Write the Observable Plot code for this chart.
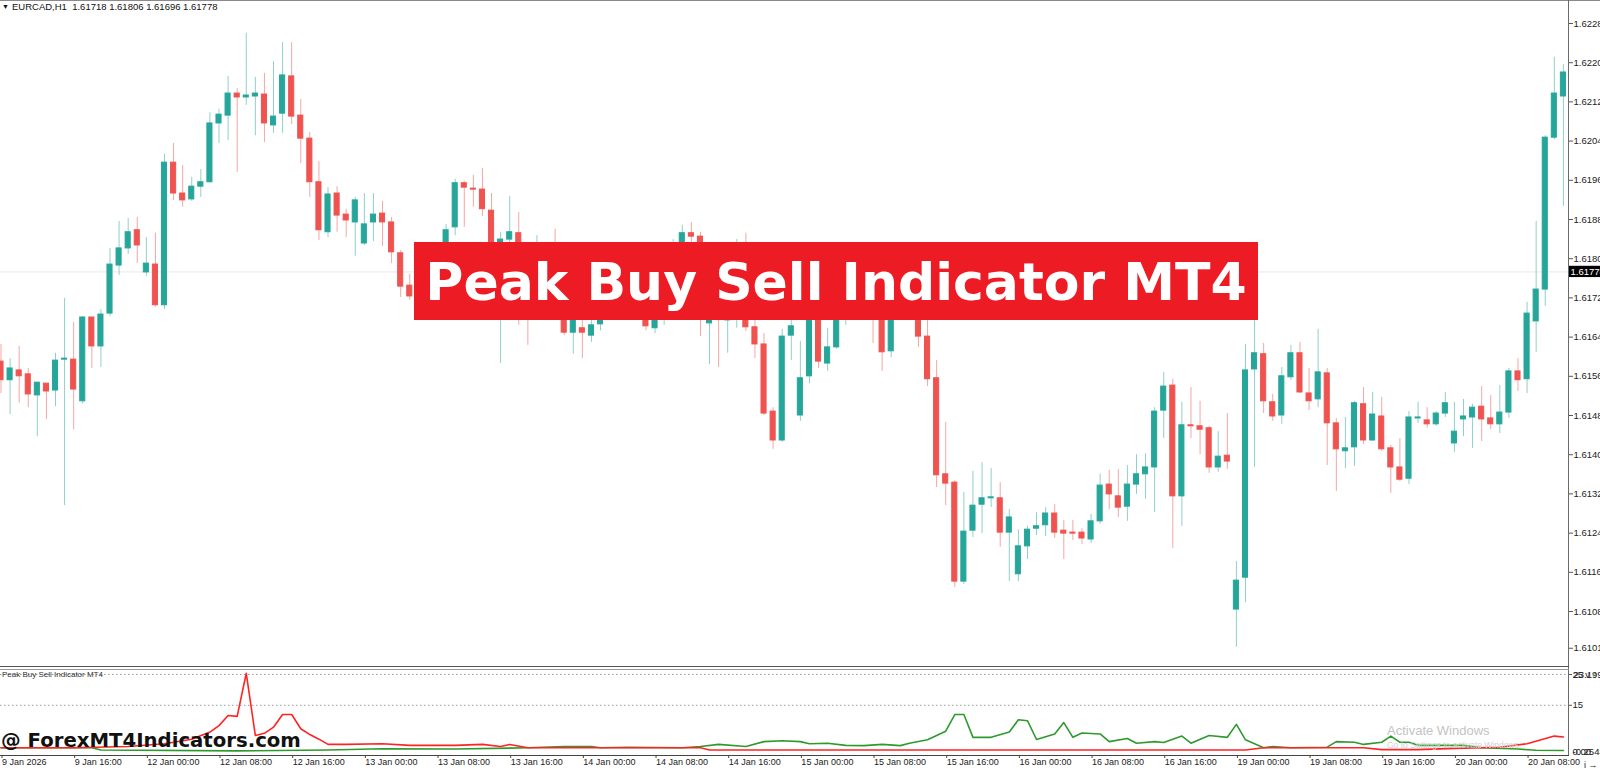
<!DOCTYPE html>
<html><head><meta charset="utf-8">
<script src="https://cdn.jsdelivr.net/npm/d3@7"></script>
<script src="https://cdn.jsdelivr.net/npm/@observablehq/plot@0.6"></script>
<style>
html,body{margin:0;padding:0;background:#fff;}
#wrap{position:relative;width:1600px;height:770px;overflow:hidden;font-family:"Liberation Sans",Arial,sans-serif;}
.abs{position:absolute;white-space:nowrap;}
</style></head><body><div id="wrap"></div>
<script>
// ---- OHLC data, EURCAD H1, candle 0 = 9 Jan 08:00 ----
const open=[1.61595,1.61557,1.61577,1.61569,1.61526,1.61550,1.61536,1.61599,1.61599,1.61514,1.61685,1.61626,1.61693,1.61791,1.61826,1.61863,1.61777,1.61793,1.61710,1.62001,1.61938,1.61926,1.61952,1.61961,1.62081,1.62097,1.62142,1.62134,1.62136,1.62140,1.62077,1.62101,1.62177,1.62097,1.62050,1.61961,1.61859,1.61938,1.61895,1.61879,1.61836,1.61879,1.61897,1.61879,1.61816,1.61750,1.61728,1.61761,1.61750,1.61797,1.61869,1.61959,1.61948,1.61946,1.61903,1.61771,1.61844,1.61857,1.61740,1.61720,1.61781,1.61750,1.61710,1.61654,1.61663,1.61648,1.61671,1.61699,1.61689,1.61710,1.61695,1.61699,1.61663,1.61683,1.61730,1.61801,1.61857,1.61850,1.61673,1.61761,1.61679,1.61699,1.61801,1.61665,1.61630,1.61493,1.61434,1.61648,1.61485,1.61565,1.61720,1.61591,1.61624,1.61699,1.61740,1.61720,1.61750,1.61720,1.61616,1.61720,1.61710,1.61730,1.61646,1.61561,1.61365,1.61348,1.61146,1.61250,1.61303,1.61316,1.61316,1.61246,1.61161,1.61218,1.61254,1.61261,1.61285,1.61250,1.61246,1.61246,1.61232,1.61269,1.61344,1.61320,1.61299,1.61344,1.61365,1.61379,1.61495,1.61546,1.61320,1.61465,1.61463,1.61459,1.61379,1.61403,1.61089,1.61154,1.61579,1.61610,1.61512,1.61485,1.61563,1.61612,1.61530,1.61518,1.61571,1.61469,1.61412,1.61420,1.61508,1.61434,1.61483,1.61418,1.61379,1.61356,1.61479,1.61475,1.61467,1.61489,1.61428,1.61477,1.61481,1.61503,1.61479,1.61467,1.61491,1.61575,1.61559,1.61677,1.61742,1.62052,1.62136];
const high=[1.61630,1.61601,1.61626,1.61581,1.61552,1.61550,1.61612,1.61724,1.61675,1.61687,1.61685,1.61701,1.61826,1.61881,1.61887,1.61889,1.61848,1.61857,1.62018,1.62040,1.61995,1.61971,1.61987,1.62103,1.62110,1.62177,1.62152,1.62265,1.62175,1.62183,1.62207,1.62246,1.62246,1.62130,1.62063,1.62003,1.61950,1.61952,1.61906,1.61930,1.61938,1.61938,1.61922,1.61889,1.61822,1.61773,1.61781,1.61777,1.61812,1.61875,1.61967,1.61963,1.61975,1.61989,1.61938,1.61859,1.61932,1.61899,1.61761,1.61852,1.61801,1.61865,1.61720,1.61689,1.61679,1.61679,1.61720,1.61720,1.61724,1.61720,1.61730,1.61720,1.61710,1.61750,1.61844,1.61873,1.61879,1.61859,1.61781,1.61771,1.61761,1.61844,1.61857,1.61679,1.61652,1.61501,1.61661,1.61679,1.61636,1.61740,1.61740,1.61663,1.61740,1.61756,1.61750,1.61765,1.61771,1.61740,1.61740,1.61730,1.61744,1.61750,1.61679,1.61597,1.61471,1.61352,1.61328,1.61371,1.61389,1.61377,1.61348,1.61293,1.61252,1.61259,1.61287,1.61297,1.61303,1.61271,1.61271,1.61254,1.61283,1.61365,1.61373,1.61375,1.61383,1.61405,1.61407,1.61501,1.61573,1.61559,1.61512,1.61542,1.61514,1.61463,1.61452,1.61489,1.61187,1.61630,1.61683,1.61632,1.61528,1.61583,1.61628,1.61634,1.61581,1.61661,1.61581,1.61479,1.61481,1.61514,1.61542,1.61532,1.61522,1.61424,1.61438,1.61493,1.61512,1.61501,1.61493,1.61532,1.61512,1.61518,1.61508,1.61544,1.61526,1.61546,1.61581,1.61601,1.61716,1.61881,1.62056,1.62216,1.62201];
const low=[1.61530,1.61487,1.61510,1.61501,1.61442,1.61477,1.61503,1.61301,1.61456,1.61508,1.61581,1.61583,1.61687,1.61771,1.61814,1.61795,1.61769,1.61706,1.61701,1.61924,1.61910,1.61922,1.61930,1.61959,1.62040,1.62046,1.61981,1.62118,1.62056,1.62042,1.62061,1.62061,1.62079,1.61999,1.61930,1.61842,1.61848,1.61859,1.61848,1.61810,1.61832,1.61840,1.61830,1.61795,1.61726,1.61720,1.61716,1.61736,1.61740,1.61789,1.61852,1.61869,1.61910,1.61891,1.61785,1.61591,1.61832,1.61669,1.61628,1.61699,1.61730,1.61689,1.61648,1.61610,1.61601,1.61634,1.61658,1.61683,1.61683,1.61687,1.61687,1.61658,1.61652,1.61669,1.61720,1.61791,1.61832,1.61646,1.61589,1.61583,1.61612,1.61663,1.61656,1.61601,1.61485,1.61416,1.61430,1.61597,1.61473,1.61550,1.61581,1.61575,1.61620,1.61669,1.61710,1.61710,1.61632,1.61575,1.61603,1.61699,1.61699,1.61624,1.61544,1.61338,1.61301,1.61134,1.61140,1.61236,1.61244,1.61297,1.61216,1.61146,1.61146,1.61191,1.61240,1.61238,1.61234,1.61191,1.61230,1.61222,1.61224,1.61263,1.61293,1.61277,1.61269,1.61324,1.61314,1.61287,1.61438,1.61214,1.61259,1.61438,1.61405,1.61367,1.61369,1.61375,1.61012,1.61103,1.61379,1.61489,1.61473,1.61467,1.61557,1.61530,1.61495,1.61501,1.61383,1.61330,1.61377,1.61381,1.61426,1.61432,1.61412,1.61326,1.61350,1.61344,1.61469,1.61459,1.61463,1.61481,1.61410,1.61442,1.61418,1.61432,1.61456,1.61448,1.61479,1.61534,1.61530,1.61614,1.61708,1.62048,1.61912];
const close=[1.61557,1.61581,1.61565,1.61528,1.61552,1.61534,1.61597,1.61601,1.61538,1.61685,1.61626,1.61691,1.61793,1.61826,1.61859,1.61832,1.61795,1.61710,1.62001,1.61938,1.61924,1.61952,1.61961,1.62081,1.62099,1.62142,1.62134,1.62138,1.62142,1.62081,1.62095,1.62179,1.62095,1.62050,1.61961,1.61863,1.61936,1.61893,1.61883,1.61924,1.61875,1.61895,1.61879,1.61818,1.61748,1.61728,1.61761,1.61750,1.61797,1.61863,1.61959,1.61950,1.61946,1.61906,1.61797,1.61844,1.61859,1.61740,1.61720,1.61781,1.61750,1.61710,1.61654,1.61683,1.61654,1.61669,1.61699,1.61689,1.61710,1.61695,1.61720,1.61667,1.61689,1.61730,1.61801,1.61857,1.61850,1.61771,1.61761,1.61699,1.61740,1.61801,1.61665,1.61630,1.61489,1.61434,1.61646,1.61667,1.61561,1.61720,1.61595,1.61624,1.61720,1.61740,1.61720,1.61750,1.61699,1.61614,1.61720,1.61710,1.61730,1.61646,1.61559,1.61363,1.61346,1.61146,1.61248,1.61301,1.61316,1.61318,1.61246,1.61277,1.61218,1.61252,1.61259,1.61285,1.61246,1.61244,1.61244,1.61234,1.61269,1.61342,1.61324,1.61297,1.61344,1.61365,1.61379,1.61493,1.61544,1.61320,1.61465,1.61463,1.61456,1.61379,1.61401,1.61391,1.61148,1.61577,1.61612,1.61514,1.61483,1.61565,1.61612,1.61532,1.61514,1.61573,1.61469,1.61416,1.61418,1.61510,1.61434,1.61487,1.61416,1.61379,1.61354,1.61481,1.61481,1.61467,1.61489,1.61510,1.61452,1.61483,1.61501,1.61477,1.61467,1.61491,1.61575,1.61557,1.61693,1.61742,1.62052,1.62142,1.62185];

const lastPrice = 1.61778;
const headerText = "EURCAD,H1  1.61718 1.61806 1.61696 1.61778";
const priceTicks=[1.62285,1.62205,1.62125,1.62045,1.61965,1.61885,1.61805,1.61725,1.61645,1.61565,1.61485,1.61405,1.61325,1.61245,1.61165,1.61085,1.61010];
const timeTickIndex=[0,8,16,24,32,40,48,56,64,72,80,88,96,104,112,120,128,136,144,152,160,168];
const timeTickLabels=["9 Jan 2026","9 Jan 16:00","12 Jan 00:00","12 Jan 08:00","12 Jan 16:00","13 Jan 00:00","13 Jan 08:00","13 Jan 16:00","14 Jan 00:00","14 Jan 08:00","14 Jan 16:00","15 Jan 00:00","15 Jan 08:00","15 Jan 16:00","16 Jan 00:00","16 Jan 08:00","16 Jan 16:00","19 Jan 00:00","19 Jan 08:00","19 Jan 16:00","20 Jan 00:00","20 Jan 08:00"];

// ---- Peak Buy Sell indicator (sub-window) ----
const sellIdx=[0,8,14,18,21,23,24,25,26,27,28,29,30,31,32,33,34,35,36,38,42,45,50,53,55,56,58,77,78,88,137,139,150,152,156,160,165,168,171,172];
const sellVal=[1.2,1.2,1.6,2.5,4.0,6.3,8.4,11.7,11.4,25.4,5.2,5.9,7.9,12.0,12.0,7.4,5.5,4.0,2.3,2.3,2.5,2.0,2.0,2.3,1.6,2.3,1.2,1.2,0.5,0.5,0.5,1.2,1.2,0.6,0.6,1.0,1.4,2.5,5.0,4.7];
const buyIdx=[0,10,11,26,36,42,50,58,62,65,66,69,75,77,79,82,84,86,88,89,91,93,95,97,99,100,102,104,105,106,107,109,111,112,113,114,116,117,118,119,121,122,124,125,127,128,130,131,133,135,136,137,139,140,142,146,147,149,150,152,153,154,155,156,161,163,167,169,172];
const buyVal=[1.2,1.2,0.5,0.2,0.5,0.9,0.8,1.2,1.6,1.6,1.2,1.4,1.2,1.6,2.3,1.6,3.2,3.5,3.2,2.5,2.7,2.0,1.9,2.3,1.9,2.7,3.8,6.6,12.0,12.0,4.6,4.6,6.3,10.3,10.0,3.9,5.7,9.4,4.6,6.0,5.7,3.2,4.2,2.7,3.2,2.9,5.0,2.7,5.2,4.6,8.8,3.8,1.2,1.6,1.2,1.4,3.2,3.0,2.3,3.0,5.0,3.0,3.0,2.0,2.0,1.2,0.8,0.4,0.3];
const levels=[25,15];
const indTopLabel="23.1995", indBottomLabel="-0.2548";

const GREEN="#26a69a", RED="#ef5350", GREEN_WICK="#8fd0c9", RED_WICK="#f5a6a4";
const X_DOMAIN=[-0.055,172.56];
const FONT="Liberation Sans, Arial, sans-serif";
const BOLD_FONT="DejaVu Sans, Liberation Sans, sans-serif";

const candles=open.map((o,i)=>({i,o,h:high[i],l:low[i],c:close[i],up:close[i]>=o}));
const sell=sellIdx.map((i,k)=>({i,v:sellVal[k]}));
const buy=buyIdx.map((i,k)=>({i,v:buyVal[k]}));

const wrap=document.getElementById("wrap");
function place(el,left,top){const d=document.createElement("div");d.className="abs";d.style.left=left+"px";d.style.top=top+"px";d.appendChild(el);wrap.appendChild(d);return d;}

const main=Plot.plot({
  width:1600,height:668,marginLeft:0,marginRight:32,marginTop:0,marginBottom:0,
  x:{domain:X_DOMAIN,axis:null},
  y:{domain:[1.609687,1.623319],axis:null},
  color:{type:"identity"},
  style:{background:"transparent",fontFamily:FONT},
  marks:[
    Plot.ruleY([lastPrice],{stroke:"#e8e8e8"}),
    Plot.ruleX(candles,{x:"i",y1:"l",y2:"h",stroke:d=>d.up?GREEN_WICK:RED_WICK,strokeWidth:1}),
    Plot.rect(candles,{x1:d=>d.i-0.28,x2:d=>d.i+0.28,y1:"o",y2:"c",fill:d=>d.up?GREEN:RED,stroke:d=>d.up?GREEN:RED,strokeWidth:1}),
    Plot.axisY(priceTicks,{anchor:"right",tickFormat:d=>d.toFixed(5),tickSize:4,tickPadding:1,fontSize:9.5,fill:"#222",stroke:"#555"}),
    Plot.rect([lastPrice],{x1:X_DOMAIN[1],x2:X_DOMAIN[1]+3.6,y1:d=>d-0.000115,y2:d=>d+0.000115,fill:"#000"}),
    Plot.text([lastPrice],{x:X_DOMAIN[1],y:d=>d,text:d=>d.toFixed(5),textAnchor:"start",dx:2,fill:"#fff",fontSize:9.5})
  ]
});
place(main,0,0);

const ind=Plot.plot({
  width:1600,height:102,marginLeft:0,marginRight:32,marginTop:2,marginBottom:15,
  x:{domain:X_DOMAIN,axis:null},
  y:{domain:[-1.30,26.30],axis:null},
  style:{background:"transparent",fontFamily:FONT},
  marks:[
    Plot.ruleY(levels,{stroke:"#9a9a9a",strokeDasharray:"1.5,2.5"}),
    Plot.line(buy,{x:"i",y:"v",stroke:"#2e9a2e",strokeWidth:1.6}),
    Plot.line(sell,{x:"i",y:"v",stroke:"#ff2323",strokeWidth:1.6}),
    Plot.axisX(timeTickIndex,{anchor:"bottom",tickFormat:i=>timeTickLabels[timeTickIndex.indexOf(i)],tickSize:3,tickPadding:0,textAnchor:"start",dx:1,fontSize:9,fill:"#222",stroke:"#444"}),
    Plot.axisY(levels,{anchor:"right",tickFormat:d=>String(d),tickSize:3,tickPadding:1,fontSize:9.5,fill:"#222",stroke:"#555"}),
    Plot.text([indTopLabel],{x:X_DOMAIN[1],y:25,text:d=>d,textAnchor:"start",dx:5,fontSize:9.5,fill:"#222"}),
    Plot.text([indBottomLabel],{x:X_DOMAIN[1],y:0,text:d=>d,textAnchor:"start",dx:4,fontSize:9.5,fill:"#222"}),
    Plot.text(["0.00"],{x:X_DOMAIN[1],y:0,text:d=>d,textAnchor:"start",dx:4,fontSize:9.5,fill:"#222"})
  ]
});
place(ind,0,668);

function box(left,top,w,h,bg){const d=document.createElement("div");d.className="abs";Object.assign(d.style,{left:left+"px",top:top+"px",width:w+"px",height:h+"px",background:bg});wrap.appendChild(d);return d;}
function label(text,left,top,css){const d=document.createElement("div");d.className="abs";d.textContent=text;Object.assign(d.style,{left:left+"px",top:top+"px"},css);wrap.appendChild(d);return d;}

// window frame lines
box(0,0,1600,1,"#8a8a8a");
box(1568,0,1,756,"#6a6a6a");
box(0,666,1569,1,"#555");
box(0,669,1569,1,"#9a9a9a");
box(0,755,1569,1,"#444");

// header
label("\u25BC",2,1,{fontSize:"7px",color:"#111",lineHeight:"12px"});
label(headerText,12,1,{fontSize:"9.5px",color:"#111",lineHeight:"12px",fontFamily:FONT,whiteSpace:"pre"});

// banner
const ban=box(414,242,844,78,"#ed1c24");
ban.textContent="Peak Buy Sell Indicator MT4";
Object.assign(ban.style,{color:"#fff",fontWeight:"bold",fontSize:"52px",lineHeight:"80px",textAlign:"center",fontFamily:BOLD_FONT});

// sub-window title
label("Peak Buy Sell Indicator MT4",2,670,{fontSize:"8px",color:"#333",lineHeight:"10px",fontFamily:FONT});

// watermark
label("@ ForexMT4Indicators.com",1,729,{fontSize:"19.7px",fontWeight:"bold",color:"#111",lineHeight:"24px",fontFamily:BOLD_FONT});

// activation notice
label("Activate Windows",1387,724,{fontSize:"13px",color:"#c4c4c4",lineHeight:"14px",fontFamily:FONT});
label("Go to Settings to activate Windows.",1387,741,{fontSize:"8.5px",color:"#cfcfcf",lineHeight:"9px",fontFamily:FONT});
</script></body></html>
